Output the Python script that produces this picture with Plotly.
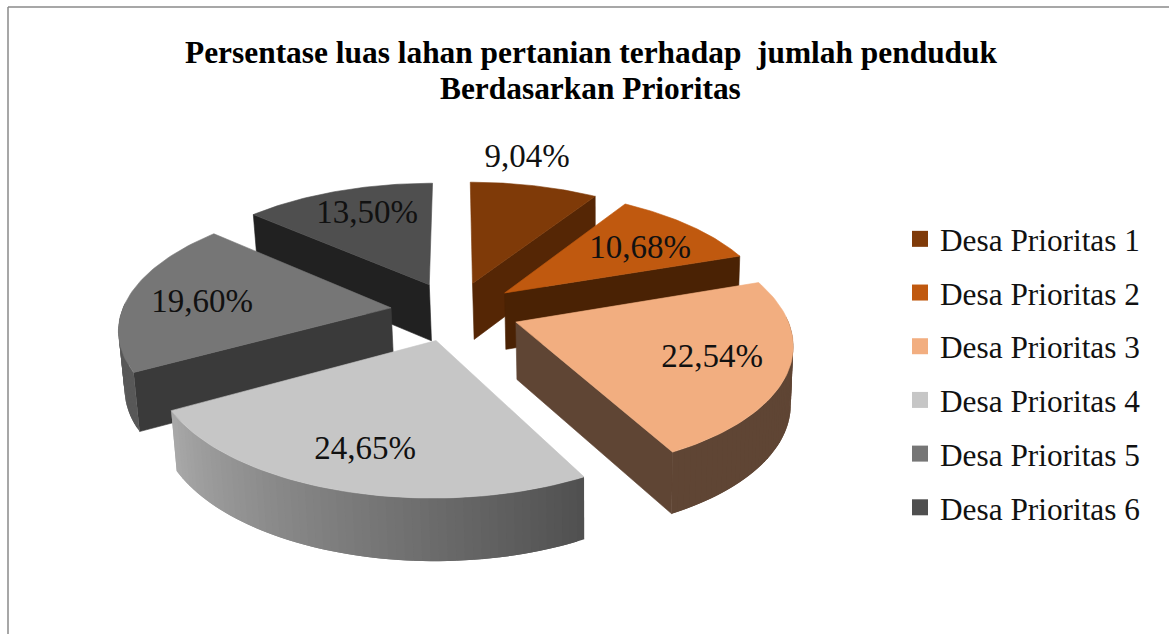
import numpy as np
import plotly.graph_objects as go

# ---- data ----
categories = ["Desa Prioritas 1", "Desa Prioritas 2", "Desa Prioritas 3",
              "Desa Prioritas 4", "Desa Prioritas 5", "Desa Prioritas 6"]
values = [9.04, 10.68, 22.54, 24.65, 19.60, 13.50]
value_labels = ["9,04%", "10,68%", "22,54%", "24,65%", "19,60%", "13,50%"]
title_lines = ["Persentase luas lahan pertanian terhadap\u00a0 jumlah penduduk",
               "Berdasarkan Prioritas"]

# ---- styles ----
top_colors = ["#7f3a08", "#c0590f", "#f2ae80", "#c6c6c6", "#767676", "#4f4f4f"]
cut_colors = ["#552605", "#4a2204", "#5f4534", "#525252", "#3a3a3a", "#212121"]
arc_front = [(0x55, 0x26, 0x05), (0x4a, 0x22, 0x04), (0x5f, 0x45, 0x34),
             (0x50, 0x50, 0x50), (0x58, 0x58, 0x58), (0x21, 0x21, 0x21)]
arc_back = [(0x55, 0x26, 0x05), (0x4a, 0x22, 0x04), (0x5f, 0x45, 0x34),
            (0xaa, 0xaa, 0xaa), (0x58, 0x58, 0x58), (0x21, 0x21, 0x21)]
label_pos = [(527, 159), (640, 250), (712, 359), (365, 451), (202, 304), (367, 215)]

# ---- projection of the exploded 3-D pie ----
CX, CY, RX, RY, PERSP, EXPLODE, DEPTH = 455, 311, 269, 124, 0.15, 0.24, 57
VANISH_X, LEAN = 600, 0.0128


def project(px, py, down=False):
    px, py = np.asarray(px, float), np.asarray(py, float)
    s = 1 / (1 + PERSP * py)
    x = CX + RX * px * s
    y = CY - RY * py * s
    if down:
        y = y + DEPTH * np.sqrt(s)
        x = x + (VANISH_X - x) * LEAN
    return x, y


def poly(x, y, color, width=0.6):
    x, y = list(x), list(y)
    return go.Scatter(x=x + x[:1], y=y + y[:1], mode="lines", fill="toself",
                      fillcolor=color, line=dict(color=color, width=width),
                      hoverinfo="skip", showlegend=False)


fig = go.Figure()
total = sum(values)
edges = np.cumsum([0] + values) / total * 2 * np.pi
order = sorted(range(len(values)),
               key=lambda i: -np.cos((edges[i] + edges[i + 1]) / 2))

for i in order:
    t0, t1 = edges[i], edges[i + 1]
    mid = (t0 + t1) / 2
    ox, oy = EXPLODE * np.sin(mid), EXPLODE * np.cos(mid)
    th = np.linspace(t0, t1, 60)
    ax, ay = ox + np.sin(th), oy + np.cos(th)

    # radial cut walls that face the viewer
    for t, vis in ((t0, np.cos(t0 - np.pi / 2) < 0), (t1, np.cos(t1 + np.pi / 2) < 0)):
        if vis:
            pxs = [ox, ox + np.sin(t)]
            pys = [oy, oy + np.cos(t)]
            x1, y1 = project(pxs, pys)
            x2, y2 = project(pxs, pys, down=True)
            fig.add_trace(poly(list(x1) + list(x2[::-1]), list(y1) + list(y2[::-1]), cut_colors[i]))

    # curved wall: overlapping strips, shaded along the arc
    idx = np.where(np.cos(th) < 0.05)[0]
    for n in range(len(idx) - 1):
        a, b = idx[n], idx[min(n + 2, len(idx) - 1)]
        f = (th[a] - t0) / (t1 - t0)
        c = [round(arc_front[i][k] + (arc_back[i][k] - arc_front[i][k]) * f) for k in range(3)]
        col = "rgb(%d,%d,%d)" % tuple(c)
        seg = np.arange(a, b + 1)
        x1, y1 = project(ax[seg], ay[seg])
        x2, y2 = project(ax[seg], ay[seg], down=True)
        fig.add_trace(poly(list(x1) + list(x2[::-1]), list(y1) + list(y2[::-1]), col, width=0))

    # top face
    x, y = project(np.r_[ox, ax], np.r_[oy, ay])
    fig.add_trace(poly(x, y, top_colors[i]))

# data labels
fig.add_trace(go.Scatter(x=[p[0] for p in label_pos], y=[p[1] for p in label_pos],
                         text=value_labels, mode="text", hoverinfo="skip", showlegend=False,
                         textposition="middle center",
                         textfont=dict(family="Liberation Serif", size=33, color="#111111")))

# legend
for name, col in zip(categories, top_colors):
    fig.add_trace(go.Scatter(x=[None], y=[None], mode="markers", name=name, legendgroup=name,
                             marker=dict(symbol="square", size=16, color=col)))

frame = dict(type="line", xref="x", yref="y", line=dict(color="#8a8a8a", width=1.5))
title_font = dict(family="Liberation Serif", size=31.4, color="#000000")
fig.update_layout(
    width=1169, height=634, autosize=False,
    margin=dict(l=0, r=0, t=0, b=0),
    paper_bgcolor="white", plot_bgcolor="white",
    xaxis=dict(range=[0, 1169], visible=False, fixedrange=True),
    yaxis=dict(range=[634, 0], visible=False, fixedrange=True),
    title=dict(text="<b>" + title_lines[0] + "</b>", x=591 / 1169, xanchor="center",
               y=1 - 52 / 634, yanchor="middle", font=title_font),
    annotations=[dict(text="<b>" + title_lines[1] + "</b>", xref="x", yref="y", x=590, y=88,
                      showarrow=False, xanchor="center", yanchor="middle", font=title_font)],
    legend=dict(x=900 / 1169, xanchor="left", y=1 - 212 / 634, yanchor="top",
                tracegroupgap=10, bgcolor="rgba(0,0,0,0)", itemclick=False, itemdoubleclick=False,
                font=dict(family="Liberation Serif", size=31.3, color="#111111")),
    shapes=[dict(x0=8, x1=8, y0=7, y1=634, **frame), dict(x0=8, x1=1169, y0=7, y1=7, **frame)],
)

fig.write_html("out.html", config=dict(displayModeBar=False),
               post_script="document.body.style.margin='0';")
